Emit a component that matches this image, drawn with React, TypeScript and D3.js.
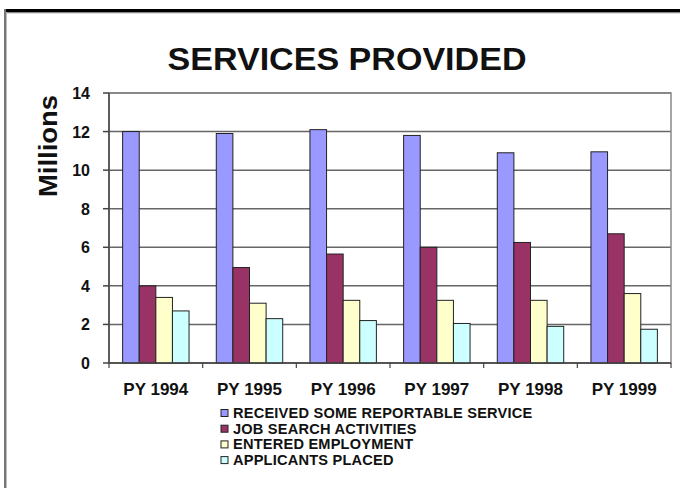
import React from "react";
import * as d3 from "d3";

const years = ["PY 1994", "PY 1995", "PY 1996", "PY 1997", "PY 1998", "PY 1999"];
const seriesNames = [
  "RECEIVED SOME REPORTABLE SERVICE",
  "JOB SEARCH ACTIVITIES",
  "ENTERED EMPLOYMENT",
  "APPLICANTS PLACED",
];
const received = [12.0, 11.9, 12.1, 11.8, 10.9, 10.95];
const jobSearch = [4.0, 4.95, 5.65, 6.0, 6.25, 6.7];
const entered = [3.4, 3.1, 3.25, 3.25, 3.25, 3.6];
const placed = [2.7, 2.3, 2.2, 2.05, 1.9, 1.75];
const seriesValues = [received, jobSearch, entered, placed];
const colors = ["#9999FF", "#993366", "#FFFFCC", "#CCFFFF"];
const yTicks = [0, 2, 4, 6, 8, 10, 12, 14];

const W = 680;
const H = 488;
const plot = { left: 109, right: 671, top: 93, bottom: 363 };
const font = "'Liberation Sans', Arial, sans-serif";

export default function App() {
  const x0 = d3.scaleBand<string>().domain(years).range([plot.left, plot.right]).padding(0);
  const x1 = d3
    .scaleBand<string>()
    .domain(seriesNames)
    .range([0, x0.bandwidth()])
    .paddingInner(0)
    .paddingOuter(0.82);
  const y = d3.scaleLinear().domain([0, 14]).range([plot.bottom, plot.top]);

  return (
    <svg
      width={W}
      height={H}
      style={{ position: "absolute", left: 0, top: 0, background: "#fff" }}
      fontFamily={font}
    >
      <rect x={0} y={0} width={W} height={H} fill="#fff" />
      {/* frame */}
      <rect x={4} y={9} width={W - 4} height={3} fill="#000" />
      <rect x={4} y={12} width={W - 4} height={1} fill="#888" />
      <rect x={4} y={13} width={W - 4} height={1} fill="#ddd" />
      <rect x={4} y={9} width={2} height={H - 9} fill="#777" />
      <rect x={6} y={12} width={1} height={H - 12} fill="#bbb" />

      {/* title */}
      <text
        x={347}
        y={70}
        textAnchor="middle"
        fontSize={30.5}
        fontWeight="bold"
        textLength={359}
        lengthAdjust="spacingAndGlyphs"
        fill="#111"
      >
        SERVICES PROVIDED
      </text>

      {/* y label */}
      <text
        transform={`translate(57,146) rotate(-90)`}
        textAnchor="middle"
        fontSize={26}
        fontWeight="bold"
        textLength={102}
        lengthAdjust="spacingAndGlyphs"
        fill="#111"
      >
        Millions
      </text>

      {/* gridlines */}
      {yTicks.map((t) => (
        <line
          key={"g" + t}
          x1={plot.left}
          x2={plot.right}
          y1={y(t)}
          y2={y(t)}
          stroke="#666"
          strokeWidth={1.5}
        />
      ))}
      {/* plot border */}
      <rect
        x={plot.left}
        y={plot.top}
        width={plot.right - plot.left}
        height={plot.bottom - plot.top}
        fill="none"
        stroke="#888"
        strokeWidth={1.5}
      />

      {/* bars */}
      {years.map((yr, i) => (
        <g key={yr}>
          {seriesNames.map((s, j) => {
            const v = seriesValues[j][i];
            const bx = (x0(yr) as number) + (x1(s) as number);
            return (
              <rect
                key={s}
                x={bx}
                y={y(v)}
                width={x1.bandwidth()}
                height={y(0) - y(v)}
                fill={colors[j]}
                stroke="#222"
                strokeWidth={1}
              />
            );
          })}
        </g>
      ))}

      {/* y axis */}
      <line x1={plot.left} x2={plot.left} y1={plot.top} y2={plot.bottom} stroke="#444" strokeWidth={1.5} />
      {yTicks.map((t) => (
        <g key={"t" + t}>
          <line x1={plot.left - 6} x2={plot.left} y1={y(t)} y2={y(t)} stroke="#444" strokeWidth={1.5} />
          <text
            x={plot.left - 19}
            y={y(t) + 6}
            textAnchor="end"
            fontSize={16}
            fontWeight="bold"
            fill="#111"
          >
            {t}
          </text>
        </g>
      ))}

      {/* x axis */}
      <line x1={plot.left} x2={plot.right} y1={plot.bottom} y2={plot.bottom} stroke="#444" strokeWidth={1.5} />
      {years.map((yr) => (
        <line
          key={"xt" + yr}
          x1={x0(yr) as number}
          x2={x0(yr) as number}
          y1={plot.bottom}
          y2={plot.bottom + 5}
          stroke="#444"
          strokeWidth={1.2}
        />
      ))}
      <line x1={plot.right} x2={plot.right} y1={plot.bottom} y2={plot.bottom + 5} stroke="#444" strokeWidth={1.2} />
      {years.map((yr) => (
        <text
          key={"xl" + yr}
          x={(x0(yr) as number) + x0.bandwidth() / 2}
          y={395}
          textAnchor="middle"
          fontSize={17}
          fontWeight="bold"
          fill="#111"
        >
          {yr}
        </text>
      ))}

      {/* legend */}
      {seriesNames.map((s, j) => {
        const cy = 413 + j * 15.7;
        return (
          <g key={"lg" + s}>
            <rect x={221} y={cy - 3.5} width={7} height={7} fill={colors[j]} stroke="#222" strokeWidth={1} />
            <text x={233} y={cy + 5} fontSize={14.6} fontWeight="bold" fill="#111" letterSpacing={0.2}>
              {s}
            </text>
          </g>
        );
      })}
    </svg>
  );
}
